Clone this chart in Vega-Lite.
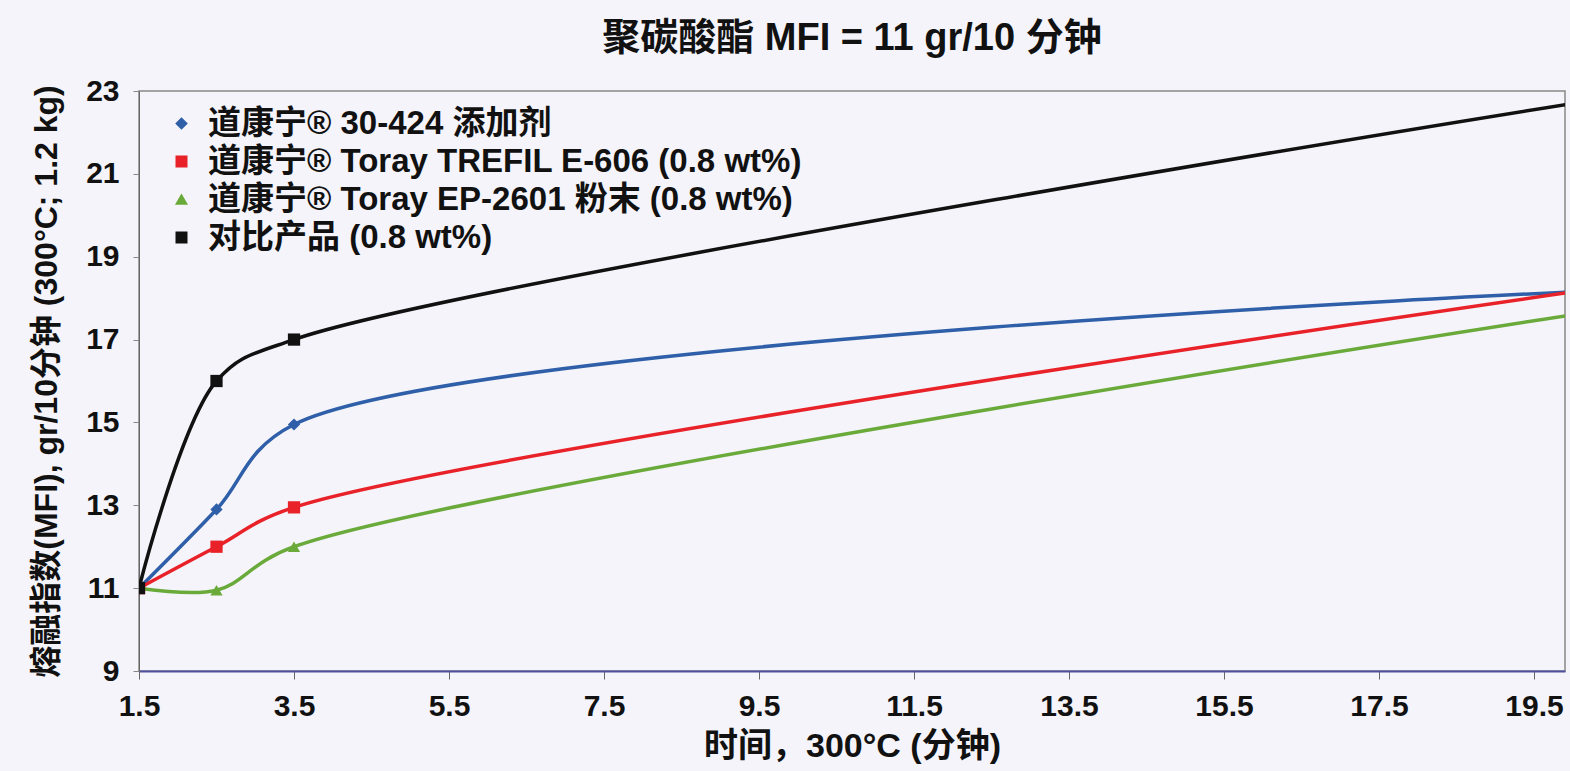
{
  "$schema": "https://vega.github.io/schema/vega-lite/v6.json",
  "autosize": {"type": "fit", "contains": "padding"},
  "width": 1570,
  "height": 771,
  "padding": {"left": 30, "right": 5, "top": 20, "bottom": 8},
  "background": "#f4f4fa",
  "title": {
    "text": "聚碳酸酯 MFI = 11 gr/10 分钟",
    "font": "Liberation Sans, Noto Sans CJK SC",
    "fontSize": 38,
    "fontWeight": "bold",
    "color": "#111111",
    "offset": 18
  },
  "config": {
    "view": {"stroke": "#888888", "strokeWidth": 1.5},
    "font": "Liberation Sans, Noto Sans CJK SC"
  },
  "data": {
    "values": [
      {"series": "道康宁® 30-424 添加剂", "t": 1.5, "mfi": 11},
      {"series": "道康宁® 30-424 添加剂", "t": 2.5, "mfi": 12.9},
      {"series": "道康宁® 30-424 添加剂", "t": 3.5, "mfi": 14.95},
      {"series": "道康宁® 30-424 添加剂", "t": 20, "mfi": 18.15},
      {"series": "道康宁® Toray TREFIL E-606 (0.8 wt%)", "t": 1.5, "mfi": 11},
      {"series": "道康宁® Toray TREFIL E-606 (0.8 wt%)", "t": 2.5, "mfi": 12},
      {"series": "道康宁® Toray TREFIL E-606 (0.8 wt%)", "t": 3.5, "mfi": 12.95},
      {"series": "道康宁® Toray TREFIL E-606 (0.8 wt%)", "t": 20, "mfi": 18.15},
      {"series": "道康宁® Toray EP-2601 粉末 (0.8 wt%)", "t": 1.5, "mfi": 11},
      {"series": "道康宁® Toray EP-2601 粉末 (0.8 wt%)", "t": 2.5, "mfi": 10.95},
      {"series": "道康宁® Toray EP-2601 粉末 (0.8 wt%)", "t": 3.5, "mfi": 12},
      {"series": "道康宁® Toray EP-2601 粉末 (0.8 wt%)", "t": 20, "mfi": 17.6},
      {"series": "对比产品 (0.8 wt%)", "t": 1.5, "mfi": 11},
      {"series": "对比产品 (0.8 wt%)", "t": 2.5, "mfi": 16},
      {"series": "对比产品 (0.8 wt%)", "t": 3.5, "mfi": 17},
      {"series": "对比产品 (0.8 wt%)", "t": 20, "mfi": 22.7}
    ]
  },
  "encoding": {
    "x": {
      "field": "t", "type": "quantitative",
      "scale": {"domain": [1.5, 19.9], "nice": false, "zero": false},
      "axis": {
        "values": [1.5, 3.5, 5.5, 7.5, 9.5, 11.5, 13.5, 15.5, 17.5, 19.5],
        "title": "时间，300°C (分钟)",
        "titleFontSize": 34, "titleFontWeight": "bold", "titleColor": "#111111", "titlePadding": 8,
        "labelFontSize": 30, "labelFontWeight": "bold", "labelColor": "#111111", "labelPadding": 12,
        "grid": false, "domainColor": "#5050a0", "domainWidth": 2, "tickColor": "#666666", "tickSize": 8,
        "labelFlush": false, "format": ".1f"
      }
    },
    "y": {
      "field": "mfi", "type": "quantitative",
      "scale": {"domain": [9, 23], "nice": false, "zero": false},
      "axis": {
        "values": [9, 11, 13, 15, 17, 19, 21, 23],
        "title": "熔融指数(MFI), gr/10分钟 (300°C; 1.2 kg)",
        "titleFontSize": 32, "titleFontWeight": "bold", "titleColor": "#111111", "titlePadding": 22,
        "labelFontSize": 30, "labelFontWeight": "bold", "labelColor": "#111111", "labelPadding": 14,
        "grid": false, "domainColor": "#666666", "tickColor": "#888888", "tickSize": 6
      }
    },
    "color": {
      "field": "series", "type": "nominal",
      "scale": {
        "domain": ["道康宁® 30-424 添加剂", "道康宁® Toray TREFIL E-606 (0.8 wt%)", "道康宁® Toray EP-2601 粉末 (0.8 wt%)", "对比产品 (0.8 wt%)"],
        "range": ["#2f5fa8", "#e82228", "#6aaa3a", "#111111"]
      },
      "legend": {
        "title": null, "orient": "none", "legendX": 26, "legendY": 16,
        "labelFontSize": 33, "labelFontWeight": "bold", "labelColor": "#111111",
        "symbolSize": 110, "rowPadding": 4, "labelLimit": 900, "labelOffset": 10, "fillColor": null
      }
    },
    "shape": {
      "field": "series", "type": "nominal",
      "scale": {
        "domain": ["道康宁® 30-424 添加剂", "道康宁® Toray TREFIL E-606 (0.8 wt%)", "道康宁® Toray EP-2601 粉末 (0.8 wt%)", "对比产品 (0.8 wt%)"],
        "range": ["diamond", "square", "triangle-up", "square"]
      }
    }
  },
  "layer": [
    {
      "mark": {"type": "line", "interpolate": "catmull-rom", "strokeWidth": 3.5, "clip": true}
    },
    {
      "mark": {"type": "point", "filled": true, "size": 150, "opacity": 1, "clip": true}
    }
  ]
}
